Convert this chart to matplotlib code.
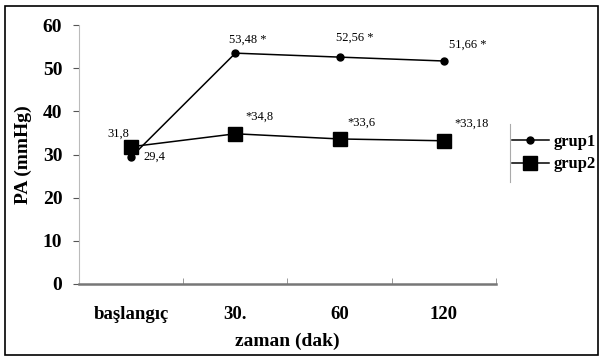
import matplotlib
matplotlib.use("Agg")
import matplotlib.pyplot as plt
from matplotlib.lines import Line2D
from matplotlib.patches import Rectangle

categories = ["başlangıç", "30.", "60", "120"]
grup1 = [29.4, 53.48, 52.56, 51.66]
grup2 = [31.8, 34.8, 33.6, 33.18]
labels1 = ["29,4", "53,48 *", "52,56 *", "51,66 *"]
labels2 = ["31,8", "*34,8", "*33,6", "*33,18"]
yticks = [0, 10, 20, 30, 40, 50, 60]

plt.rcParams['font.family'] = ['Liberation Serif', 'DejaVu Serif']

W, H = 603, 358
fig = plt.figure(figsize=(W/100, H/100), dpi=100)
ax = fig.add_axes([79/W, 1-284/H, (496-79)/W, (284-25)/H])

x = list(range(len(categories)))
ax.plot(x, grup1, color='black', lw=1.1, marker='o', ms=5, label='grup1')
ax.plot(x, grup2, color='black', lw=1.1, marker='s', ms=9.5, label='grup2')

ax.set_xlim(-0.5, 3.5)
ax.set_ylim(0, 60)
ax.set_yticks(yticks)
ax.set_xticks(x)
ax.set_xticklabels(categories, fontsize=13.5, fontweight='bold')
ax.set_xticks([-0.5, 0.5, 1.5, 2.5, 3.5], minor=True)
ax.tick_params(axis='x', which='major', length=0, pad=16)
ax.tick_params(axis='x', which='minor', length=4, direction='in', color='#888888')
ax.tick_params(axis='y', length=4, color='#555555', labelsize=14, pad=8)
for lab in ax.get_yticklabels():
    lab.set_fontweight('bold')

for s in ['top', 'right']:
    ax.spines[s].set_visible(False)
ax.spines['left'].set_color('#bbbbbb')
ax.spines['left'].set_linestyle((0, (1, 1)))
ax.spines['left'].set_linewidth(0.8)
ax.spines['bottom'].set_color('#777777')
ax.spines['bottom'].set_linewidth(1.8)

ax.set_ylabel("PA (mmHg)", fontsize=14, fontweight='bold', labelpad=8)
ax.set_xlabel("zaman (dak)", fontsize=14, fontweight='bold', labelpad=7)

# annotations
off1 = [(17, 0), (9, 10), (11, 14), (17, 12)]
off2 = [(-9, 9), (17, 12), (16, 12), (20, 12)]
for i in x:
    ax.annotate(labels1[i], (x[i], grup1[i]), xytext=off1[i], textcoords='offset points',
                ha='center', va='center', fontsize=9)
    ax.annotate(labels2[i], (x[i], grup2[i]), xytext=off2[i], textcoords='offset points',
                ha='center', va='center', fontsize=9)

leg = fig.legend(loc='center left', bbox_to_anchor=(512/W, 1-153/H), frameon=False,
                 prop={'size': 12, 'weight': 'bold'}, handlelength=2.2, handletextpad=0.3,
                 labelspacing=0.4, borderpad=0, borderaxespad=0)
fig.add_artist(Line2D([510/W, 510/W], [1-182/H, 1-124/H], color='#aaaaaa', lw=0.8,
                      transform=fig.transFigure))

fig.add_artist(Rectangle((5/W, 3/H), 593/W, (352-3)/H, fill=False, ec='black', lw=1.2,
                         transform=fig.transFigure))

fig.savefig("out.png", dpi=100)
